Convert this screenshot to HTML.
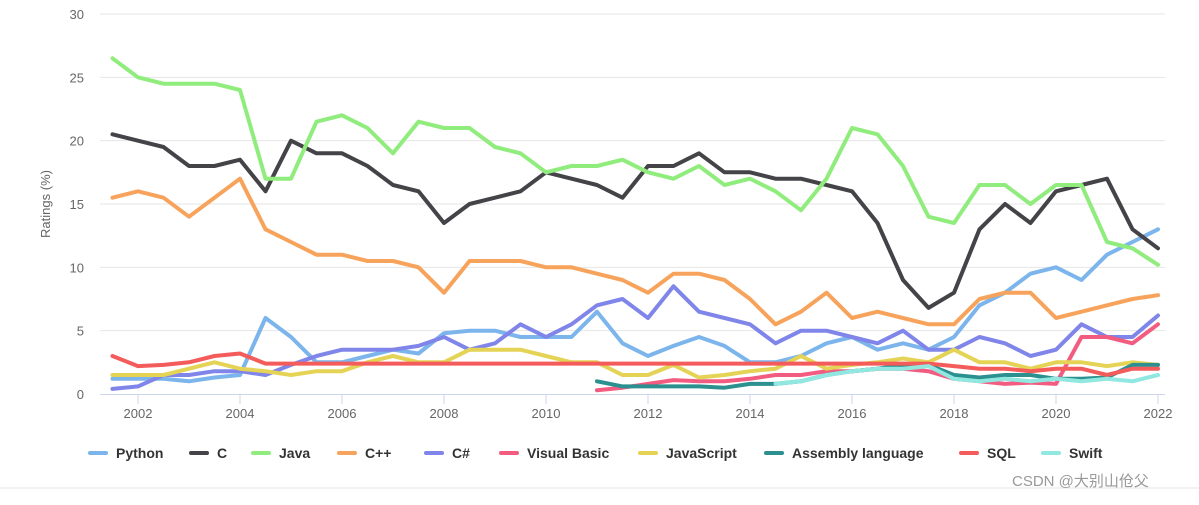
<!DOCTYPE html>
<html><head><meta charset="utf-8"><style>
body{margin:0;background:#fff;width:1199px;height:500px;overflow:hidden;font-family:"Liberation Sans","Noto Sans CJK SC",sans-serif}
svg text{font-family:"Liberation Sans","Noto Sans CJK SC",sans-serif}
</style></head><body>
<svg id="chart" width="1199" height="500" xmlns="http://www.w3.org/2000/svg">
<g id="grid"></g><g id="axes"></g><g id="series"></g><g id="legend"></g>
<line x1="0" y1="488" x2="1199" y2="488" stroke="#e6e6e6"/>
<text x="1012" y="486" font-size="15" fill="#999">CSDN @大别山伧父</text>
</svg>
<script>
const years=[];for(let i=0;i<42;i++)years.push(2001.5+i*0.5);
const names=["Python","C","Java","C++","C#","Visual Basic","JavaScript","Assembly language","SQL","Swift"];
const colors=["#7cb5ec","#434348","#90ed7d","#f7a35c","#8085e9","#f15c80","#e4d354","#2b908f","#f45b5b","#91e8e1"];
const N=null;
const python=[1.2,1.2,1.2,1,1.3,1.5,6,4.5,2.5,2.5,3,3.5,3.2,4.8,5,5,4.5,4.5,4.5,6.5,4,3,3.8,4.5,3.8,2.5,2.5,3,4,4.5,3.5,4,3.5,4.5,7,8,9.5,10,9,11,12,13];
const cLang=[20.5,20,19.5,18,18,18.5,16,20,19,19,18,16.5,16,13.5,15,15.5,16,17.5,17,16.5,15.5,18,18,19,17.5,17.5,17,17,16.5,16,13.5,9,6.8,8,13,15,13.5,16,16.5,17,13,11.5];
const java=[26.5,25,24.5,24.5,24.5,24,17,17,21.5,22,21,19,21.5,21,21,19.5,19,17.5,18,18,18.5,17.5,17,18,16.5,17,16,14.5,17,21,20.5,18,14,13.5,16.5,16.5,15,16.5,16.5,12,11.5,10.2];
const cpp=[15.5,16,15.5,14,15.5,17,13,12,11,11,10.5,10.5,10,8,10.5,10.5,10.5,10,10,9.5,9,8,9.5,9.5,9,7.5,5.5,6.5,8,6,6.5,6,5.5,5.5,7.5,8,8,6,6.5,7,7.5,7.8];
const csharp=[0.4,0.6,1.5,1.5,1.8,1.8,1.5,2.3,3,3.5,3.5,3.5,3.8,4.5,3.5,4,5.5,4.5,5.5,7,7.5,6,8.5,6.5,6,5.5,4,5,5,4.5,4,5,3.5,3.5,4.5,4,3,3.5,5.5,4.5,4.5,6.2];
const vb=[N,N,N,N,N,N,N,N,N,N,N,N,N,N,N,N,N,N,N,0.3,0.5,0.8,1.1,1,1,1.2,1.5,1.5,1.8,1.8,2,2,1.8,1.2,1,0.8,0.9,0.8,4.5,4.5,4,5.5];
const js=[1.5,1.5,1.5,2,2.5,2,1.8,1.5,1.8,1.8,2.5,3,2.5,2.5,3.5,3.5,3.5,3,2.5,2.5,1.5,1.5,2.3,1.3,1.5,1.8,2,3,2,2.3,2.5,2.8,2.5,3.5,2.5,2.5,2,2.5,2.5,2.2,2.5,2.3];
const asm=[N,N,N,N,N,N,N,N,N,N,N,N,N,N,N,N,N,N,N,1,0.6,0.6,0.6,0.6,0.5,0.8,0.8,1,1.5,1.8,2,2.3,2.3,1.5,1.3,1.5,1.5,1.2,1.2,1.3,2.3,2.3];
const sql=[3,2.2,2.3,2.5,3,3.2,2.4,2.4,2.4,2.4,2.4,2.4,2.4,2.4,2.4,2.4,2.4,2.4,2.4,2.4,2.4,2.4,2.4,2.4,2.4,2.4,2.4,2.4,2.4,2.4,2.4,2.4,2.4,2.2,2,2,1.8,2,2,1.5,2,2];
const swift=[N,N,N,N,N,N,N,N,N,N,N,N,N,N,N,N,N,N,N,N,N,N,N,N,N,N,0.8,1,1.5,1.8,2,2,2.2,1.2,1,1.2,1,1.2,1,1.2,1,1.5];
const seriesData=[python,cLang,java,cpp,csharp,vb,js,asm,sql,swift];
const yTicks=[0,5,10,15,20,25,30];
const xTicks=[2002,2004,2006,2008,2010,2012,2014,2016,2018,2020,2022];
const NS="http://www.w3.org/2000/svg";
const xS=y=>138+(y-2002)*51;
const yS=v=>394-v*12.667;
function mk(t,a,p){const e=document.createElementNS(NS,t);for(const k in a)e.setAttribute(k,a[k]);p.appendChild(e);return e;}
const grid=document.getElementById('grid'),axes=document.getElementById('axes'),ser=document.getElementById('series'),leg=document.getElementById('legend');
yTicks.forEach(v=>{
 if(v>0){const l=mk('line',{x1:100,x2:1165,y1:yS(v),y2:yS(v),stroke:'#e6e6e6'},grid);
 
 }
 const t=mk('text',{x:84,y:yS(v)+5,'text-anchor':'end','font-size':13,fill:'#666'},axes);t.textContent=v;
 
 
});
const al=mk('line',{x1:100,x2:1165,y1:394.5,y2:394.5,stroke:'#ccd6eb'},axes);


xTicks.forEach(y=>{
 const tk=mk('line',{x1:xS(y),x2:xS(y),y1:394,y2:404,stroke:'#ccd6eb'},axes);
 
 
 const t=mk('text',{x:xS(y),y:418,'text-anchor':'middle','font-size':13,fill:'#666'},axes);t.textContent=y;
 
 
});
const yt=mk('text',{x:0,y:0,transform:'translate(50,204) rotate(-90)','text-anchor':'middle','font-size':13,fill:'#666'},axes);yt.textContent='Ratings (%)';


seriesData.forEach((arr,i)=>{
 let segs=[],cur=[];
 arr.forEach((v,j)=>{if(v===null){if(cur.length)segs.push(cur);cur=[];}else cur.push(xS(years[j]).toFixed(1)+','+yS(v).toFixed(1));});
 if(cur.length)segs.push(cur);
 segs.forEach(s=>{const p=mk('polyline',{points:s.join(' '),fill:'none',stroke:colors[i],'stroke-width':4,'stroke-linejoin':'round','stroke-linecap':'round'},ser);
 
 });
});
const legX=[116,217,279,365,452,527,666,792,987,1069];
names.forEach((n,i)=>{
 const g=mk('g',{},leg);
 
 
 mk('line',{x1:legX[i]-26,x2:legX[i]-10,y1:453,y2:453,stroke:colors[i],'stroke-width':4,'stroke-linecap':'round'},g);
 const t=mk('text',{x:legX[i],y:458,'font-size':14,'font-weight':'bold',fill:'#333'},g);t.textContent=n;
});
</script>
</body></html>
